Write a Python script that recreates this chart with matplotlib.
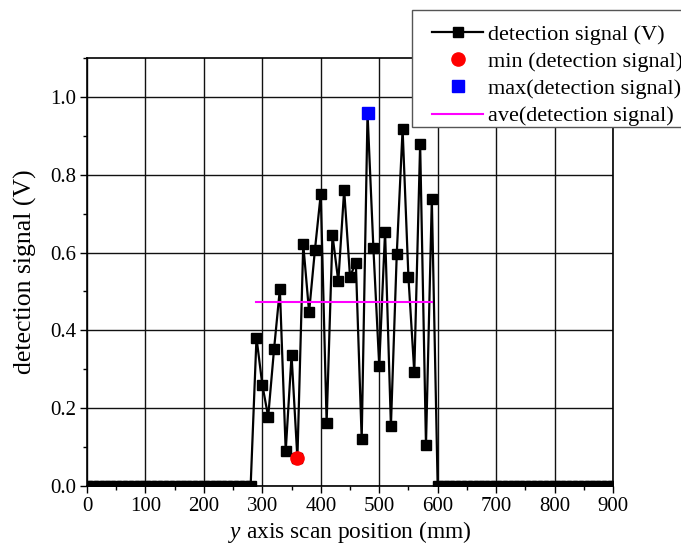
import matplotlib
matplotlib.use("Agg")
import matplotlib.pyplot as plt
from matplotlib.ticker import MultipleLocator
from matplotlib.patches import Rectangle

plt.rcParams['font.family'] = ['Liberation Serif', 'DejaVu Serif']
plt.rcParams['mathtext.fontset'] = 'custom'
plt.rcParams['mathtext.it'] = 'Liberation Serif:italic'
plt.rcParams['mathtext.rm'] = 'Liberation Serif'

# ---- data ----
zero_left_x = list(range(0, 290, 10))
signal_x = list(range(290, 600, 10))
signal_y = [0.381, 0.260, 0.178, 0.351, 0.506, 0.090, 0.336, 0.071, 0.621, 0.447,
            0.607, 0.751, 0.163, 0.645, 0.526, 0.761, 0.538, 0.574, 0.120, 0.958,
            0.612, 0.309, 0.654, 0.154, 0.596, 0.917, 0.536, 0.292, 0.879, 0.105,
            0.737]
zero_right_x = list(range(600, 910, 10))

x_all = zero_left_x + signal_x + zero_right_x
y_all = [0.0] * len(zero_left_x) + signal_y + [0.0] * len(zero_right_x)

min_x, min_y = 360, 0.071
max_x, max_y = 480, 0.958
ave_x = [290, 590]
ave_value = 0.473

x_ticks = [0, 100, 200, 300, 400, 500, 600, 700, 800, 900]
y_ticks = [0.0, 0.2, 0.4, 0.6, 0.8, 1.0]

labels = ["detection signal (V)", "min (detection signal)",
          "max(detection signal)", "ave(detection signal)"]

W, H = 681, 544
fig = plt.figure(figsize=(W / 100, H / 100), dpi=100)
ax = fig.add_axes([87 / W, 1 - 486 / H, (613 - 87) / W, (486 - 58) / H])

ax.grid(True, which='major', color='#111111', linewidth=1.0)
ax.set_axisbelow(True)

l1, = ax.plot(x_all, y_all, color='black', linewidth=1.6, marker='s',
              markersize=6.5, markerfacecolor='black', markeredgecolor='black',
              zorder=3)
l2, = ax.plot([min_x], [min_y], linestyle='none', marker='o', markersize=9.5,
              color='#ff0000', zorder=4)
l3, = ax.plot([max_x], [max_y], linestyle='none', marker='s', markersize=8.5,
              color='#0000ff', zorder=4)
l4, = ax.plot(ave_x, [ave_value, ave_value], color='#ff00ff', linewidth=1.5,
              zorder=3)

ax.set_xlim(0, 900)
ax.set_ylim(0, 1.1)
ax.set_xticks(x_ticks)
ax.set_yticks(y_ticks)
ax.set_yticklabels([f"{v:.1f}" for v in y_ticks])
ax.xaxis.set_minor_locator(MultipleLocator(50))
ax.yaxis.set_minor_locator(MultipleLocator(0.1))
ax.tick_params(axis='both', which='major', direction='out', length=5, width=1,
               labelsize=15, pad=3)
ax.tick_params(axis='both', which='minor', direction='out', length=3, width=1)
for s in ax.spines.values():
    s.set_linewidth(1.2)

ax.set_xlabel("$y$ axis scan position (mm)", fontsize=16.8, labelpad=2)
ax.set_ylabel("detection signal (V)", fontsize=18.5, labelpad=9)

# legend frame drawn separately (extends past the right edge like the reference)
fig.patches.append(Rectangle((412 / W, 1 - 127 / H), (W + 10 - 412) / W, (127 - 10) / H,
                             transform=fig.transFigure, facecolor='white',
                             edgecolor='#555555', linewidth=1.0, zorder=5))
leg = fig.legend([l1, l2, l3, l4], labels, loc='upper left',
                 bbox_to_anchor=(421 / W, 1 - 13 / H),
                 frameon=False, fontsize=16, handlelength=2.3,
                 handletextpad=0.2, labelspacing=0.3, borderpad=0.5,
                 borderaxespad=0)
leg.set_zorder(6)

fig.savefig("out.png", dpi=100)
